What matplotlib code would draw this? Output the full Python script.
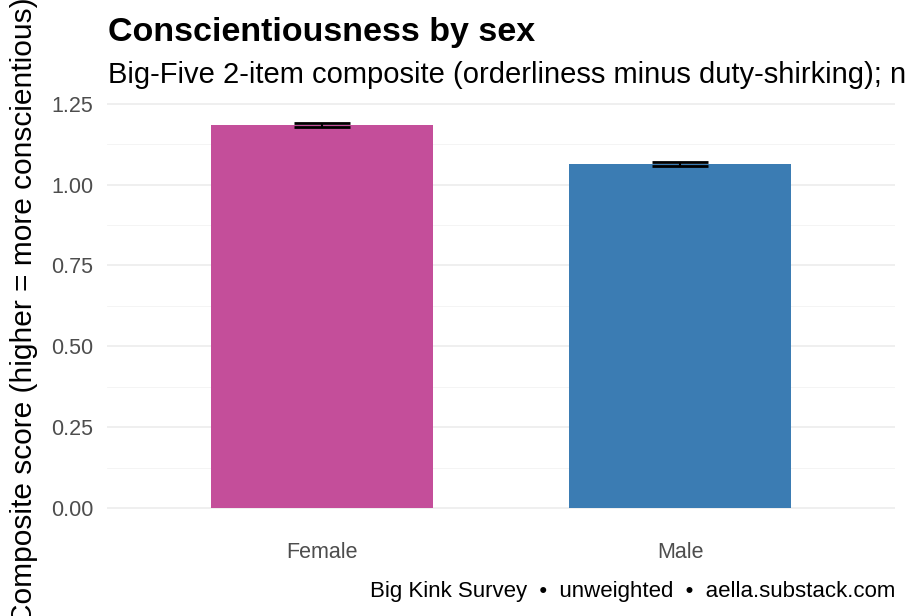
import matplotlib
matplotlib.use("Agg")
import matplotlib.pyplot as plt
import numpy as np

sexes = ["Female", "Male"]
means = [1.185, 1.064]
ses = [0.006, 0.006]
bar_cols = ["#C44E9A", "#3B7CB3"]
yticks = [0.0, 0.25, 0.5, 0.75, 1.0, 1.25]

plt.rcParams["font.family"] = ["Liberation Sans", "DejaVu Sans"]

W, H = 910, 616
fig = plt.figure(figsize=(W / 100, H / 100), dpi=100)

# panel in pixel coords
left, right, top, bottom = 107, 895, 100, 527
ax = fig.add_axes([left / W, 1 - bottom / H, (right - left) / W, (bottom - top) / H])

x = np.arange(1, len(sexes) + 1)
ax.bar(x, means, width=0.62, color=bar_cols, zorder=2)
ax.errorbar(x, means, yerr=ses, fmt="none", ecolor="black", elinewidth=1.5,
            capsize=20.5, capthick=2, zorder=3)

ax.set_xlim(0.4, 2.6)
ax.set_ylim(-0.059, 1.262)
ax.set_yticks(yticks)
ax.set_yticklabels([f"{t:.2f}" for t in yticks])
ax.set_yticks(np.arange(0.125, 1.25, 0.25), minor=True)
ax.set_xticks(x)
ax.set_xticklabels(sexes)

ax.grid(axis="y", which="major", color="#EBEBEB", linewidth=1.1, zorder=0)
ax.grid(axis="y", which="minor", color="#F3F3F3", linewidth=0.6, zorder=0)
ax.set_axisbelow(True)
for s in ax.spines.values():
    s.set_visible(False)
ax.tick_params(axis="both", which="both", length=0, labelsize=15.5, labelcolor="#4D4D4D")
ax.tick_params(axis="y", pad=10)
ax.tick_params(axis="x", pad=11)

# y label runs past the figure edges, as in the original
fig.text(24 / W, 1 - 311 / H, "Composite score (higher = more conscientious)",
         fontsize=21.5, rotation=90, ha="center", va="center")

fig.text(108 / W, 1 - 41 / H, "Conscientiousness by sex", fontsize=24.5, fontweight="bold",
         va="baseline", ha="left")
fig.text(108 / W, 1 - 83 / H,
         "Big-Five 2-item composite (orderliness minus duty-shirking); n = 1,000,000",
         fontsize=21, va="baseline", ha="left")
fig.text(895 / W, 1 - 597 / H, "Big Kink Survey  \u2022  unweighted  \u2022  aella.substack.com",
         fontsize=16, va="baseline", ha="right")

fig.savefig("out.png", dpi=100)
